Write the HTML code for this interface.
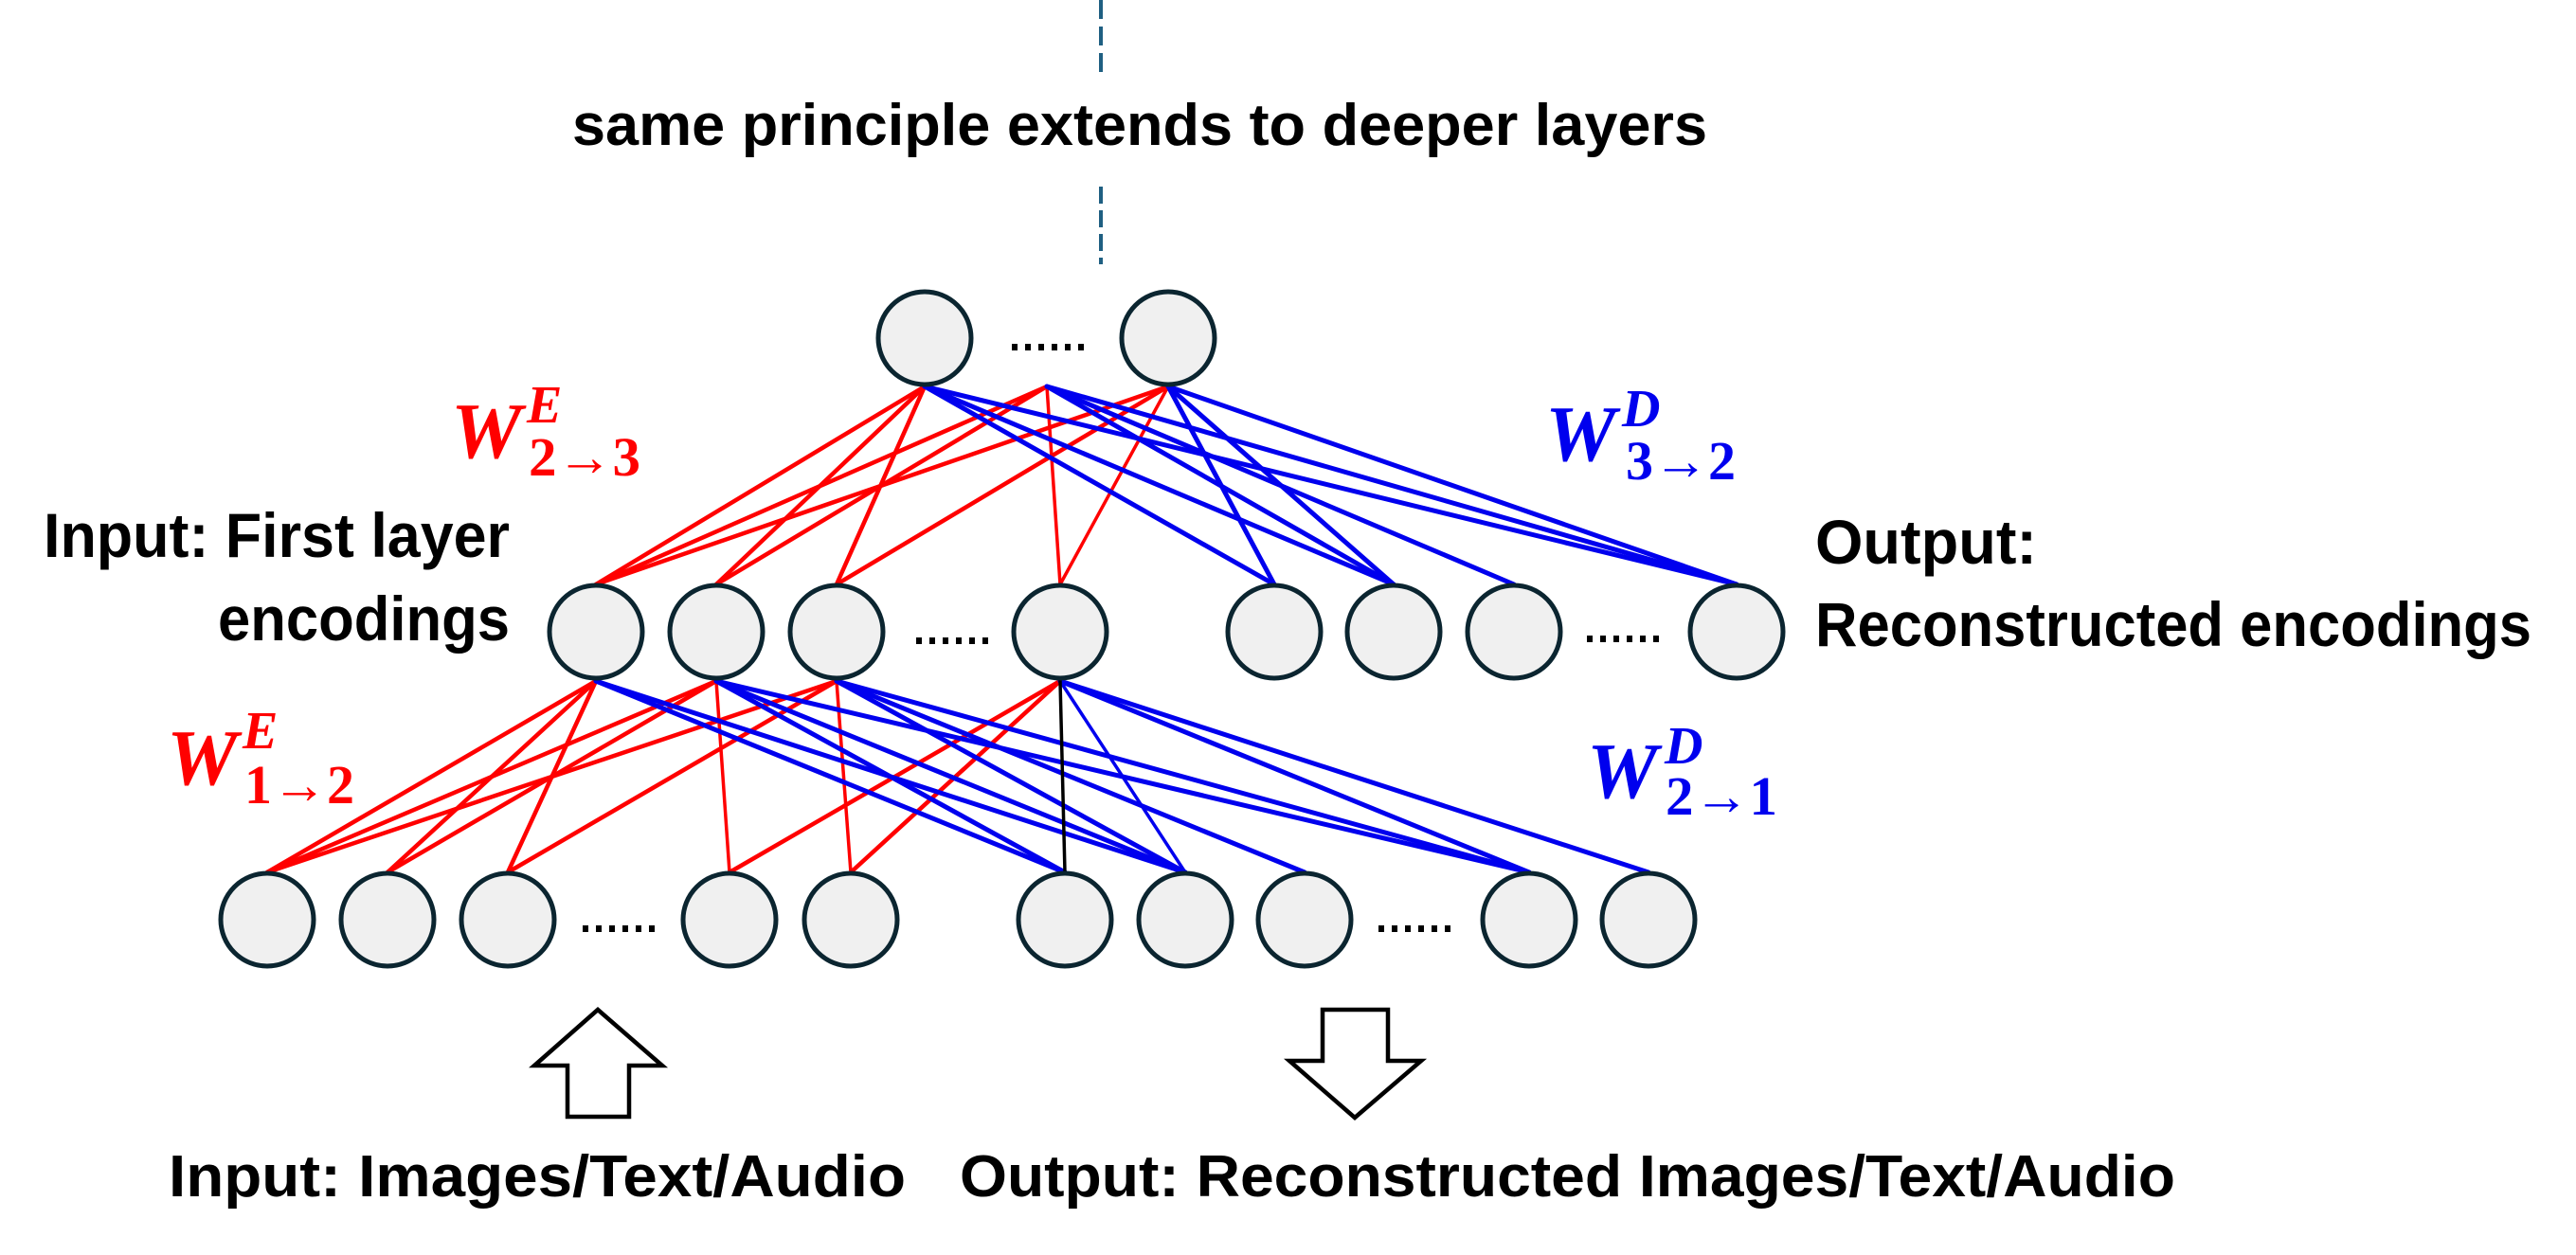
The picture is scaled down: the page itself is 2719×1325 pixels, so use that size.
<!DOCTYPE html>
<html><head><meta charset="utf-8"><style>
html,body{margin:0;padding:0;background:#fff;}
svg{display:block;}
.t{font-family:"Liberation Sans",sans-serif;font-weight:bold;fill:#000;}
.w{font-family:"Liberation Serif",serif;font-weight:bold;font-style:italic;}
.s{font-family:"Liberation Serif",serif;font-weight:bold;}
</style></head><body>
<svg width="2719" height="1325" viewBox="0 0 2719 1325" xmlns="http://www.w3.org/2000/svg">
<defs>
<g id="d" fill="#000"><rect x="0" y="0" width="6" height="7"/><rect x="14" y="0" width="6" height="7"/><rect x="28" y="0" width="6" height="7"/><rect x="42" y="0" width="6" height="7"/><rect x="56" y="0" width="6" height="7"/><rect x="70" y="0" width="6" height="7"/></g>
</defs>
<rect width="2719" height="1325" fill="#fff"/>
<line x1="1162" y1="0" x2="1162" y2="84" stroke="#1f5f82" stroke-width="4" stroke-dasharray="20 8"/>
<line x1="1162" y1="197" x2="1162" y2="279" stroke="#1f5f82" stroke-width="4" stroke-dasharray="18 7"/>
<text class="t" x="604" y="153" font-size="62" textLength="1198" lengthAdjust="spacingAndGlyphs">same principle extends to deeper layers</text>

<g stroke-linecap="round">
<g stroke="#ff0000" stroke-width="4.5">
<line x1="629" y1="617" x2="976" y2="408"/>
<line x1="629" y1="617" x2="1105" y2="408"/>
<line x1="629" y1="617" x2="1233" y2="408"/>
<line x1="756" y1="617" x2="976" y2="408"/>
<line x1="756" y1="617" x2="1105" y2="408"/>
<line x1="883" y1="617" x2="976" y2="408"/>
<line x1="883" y1="617" x2="1233" y2="408"/>
<line x1="1119" y1="617" x2="1105" y2="408" stroke-width="3.5"/>
<line x1="1119" y1="617" x2="1233" y2="408" stroke-width="3.5"/>
</g>
<g stroke="#0000ee" stroke-width="5">
<line x1="976" y1="408" x2="1345" y2="617"/>
<line x1="976" y1="408" x2="1471" y2="617"/>
<line x1="976" y1="408" x2="1833" y2="617"/>
<line x1="1105" y1="408" x2="1471" y2="617"/>
<line x1="1105" y1="408" x2="1598" y2="617"/>
<line x1="1105" y1="408" x2="1833" y2="617"/>
<line x1="1233" y1="408" x2="1345" y2="617"/>
<line x1="1233" y1="408" x2="1471" y2="617"/>
<line x1="1233" y1="408" x2="1833" y2="617"/>
</g>
<g stroke="#ff0000" stroke-width="4.5">
<line x1="282" y1="921" x2="629" y2="719"/>
<line x1="282" y1="921" x2="756" y2="719"/>
<line x1="282" y1="921" x2="883" y2="719"/>
<line x1="409" y1="921" x2="629" y2="719"/>
<line x1="409" y1="921" x2="756" y2="719"/>
<line x1="536" y1="921" x2="629" y2="719"/>
<line x1="536" y1="921" x2="883" y2="719"/>
<line x1="770" y1="921" x2="756" y2="719" stroke-width="3.5"/>
<line x1="770" y1="921" x2="1119" y2="719"/>
<line x1="898" y1="921" x2="883" y2="719" stroke-width="3.5"/>
<line x1="898" y1="921" x2="1119" y2="719"/>
</g>
<g stroke="#0000ee" stroke-width="5">
<line x1="629" y1="719" x2="1124" y2="921"/>
<line x1="629" y1="719" x2="1251" y2="921"/>
<line x1="756" y1="719" x2="1124" y2="921"/>
<line x1="756" y1="719" x2="1251" y2="921"/>
<line x1="756" y1="719" x2="1614" y2="921"/>
<line x1="883" y1="719" x2="1251" y2="921"/>
<line x1="883" y1="719" x2="1377" y2="921"/>
<line x1="883" y1="719" x2="1614" y2="921"/>
<line x1="1119" y1="719" x2="1251" y2="921" stroke-width="3.5"/>
<line x1="1119" y1="719" x2="1614" y2="921"/>
<line x1="1119" y1="719" x2="1740" y2="921"/>
</g>
<line x1="1119" y1="719" x2="1124" y2="921" stroke="#000" stroke-width="3.5"/>
</g>

<g fill="#f0f0f0" stroke="#0b2530" stroke-width="5">
<circle cx="976" cy="357" r="49"/><circle cx="1233" cy="357" r="49"/>
<circle cx="629" cy="667" r="49"/><circle cx="756" cy="667" r="49"/><circle cx="883" cy="667" r="49"/><circle cx="1119" cy="667" r="49"/>
<circle cx="1345" cy="667" r="49"/><circle cx="1471" cy="667" r="49"/><circle cx="1598" cy="667" r="49"/><circle cx="1833" cy="667" r="49"/>
<circle cx="282" cy="971" r="49"/><circle cx="409" cy="971" r="49"/><circle cx="536" cy="971" r="49"/><circle cx="770" cy="971" r="49"/><circle cx="898" cy="971" r="49"/>
<circle cx="1124" cy="971" r="49"/><circle cx="1251" cy="971" r="49"/><circle cx="1377" cy="971" r="49"/><circle cx="1614" cy="971" r="49"/><circle cx="1740" cy="971" r="49"/>
</g>
<use href="#d" x="1068" y="363"/>
<use href="#d" x="967" y="673"/>
<use href="#d" x="1675" y="671"/>
<use href="#d" x="615" y="977"/>
<use href="#d" x="1455" y="977"/>

<text class="t" x="46" y="588" font-size="66" textLength="492" lengthAdjust="spacingAndGlyphs">Input: First layer</text>
<text class="t" x="230" y="676" font-size="66" textLength="308" lengthAdjust="spacingAndGlyphs">encodings</text>
<text class="t" x="1916" y="595" font-size="66" textLength="234" lengthAdjust="spacingAndGlyphs">Output:</text>
<text class="t" x="1916" y="682" font-size="66" textLength="756" lengthAdjust="spacingAndGlyphs">Reconstructed encodings</text>

<g fill="#ff0000">
<text class="w" x="476" y="483" font-size="84">W</text>
<text class="w" x="556" y="446" font-size="56">E</text>
<text class="s" x="558" y="502" font-size="58" textLength="118" lengthAdjust="spacingAndGlyphs">2→3</text>
<text class="w" x="176" y="828" font-size="84">W</text>
<text class="w" x="256" y="790" font-size="56">E</text>
<text class="s" x="258" y="848" font-size="58" textLength="116" lengthAdjust="spacingAndGlyphs">1→2</text>
</g>
<g fill="#0000ee">
<text class="w" x="1631" y="486" font-size="84">W</text>
<text class="w" x="1712" y="450" font-size="56">D</text>
<text class="s" x="1716" y="506" font-size="58" textLength="116" lengthAdjust="spacingAndGlyphs">3→2</text>
<text class="w" x="1675" y="842" font-size="84">W</text>
<text class="w" x="1757" y="806" font-size="56">D</text>
<text class="s" x="1758" y="860" font-size="58" textLength="118" lengthAdjust="spacingAndGlyphs">2→1</text>
</g>

<polygon points="631,1066 699,1125 664,1125 664,1179 599,1179 599,1125 564,1125" fill="#fff" stroke="#000" stroke-width="4.5"/>
<polygon points="1396,1066 1465,1066 1465,1120 1500,1120 1430,1180 1361,1120 1396,1120" fill="#fff" stroke="#000" stroke-width="4.5"/>

<text class="t" x="178" y="1263" font-size="62" textLength="778" lengthAdjust="spacingAndGlyphs">Input: Images/Text/Audio</text>
<text class="t" x="1013" y="1263" font-size="62" textLength="1283" lengthAdjust="spacingAndGlyphs">Output: Reconstructed Images/Text/Audio</text>
</svg>
</body></html>
